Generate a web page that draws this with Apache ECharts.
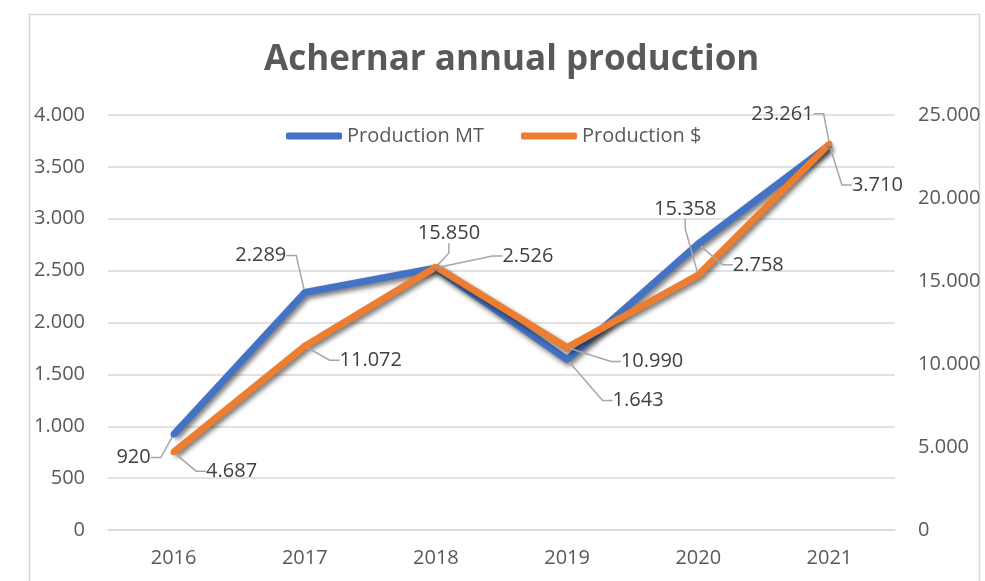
<!DOCTYPE html>
<html>
<head>
<meta charset="utf-8">
<script src="https://cdn.jsdelivr.net/npm/echarts@6/dist/echarts.min.js"></script>
<style>
  html, body { margin: 0; padding: 0; background: #fff; }
  #main { width: 985px; height: 581px; }
</style>
</head>
<body>
<div id="main"></div>
<script>
const years = ['2016', '2017', '2018', '2019', '2020', '2021']
const productionMT = [920, 2289, 2526, 1643, 2758, 3710]
const productionUSD = [4687, 11072, 15850, 10990, 15358, 23261]
const leftTicks = [0, 4000, 500]
const rightTicks = [0, 25000, 5000]

// label offsets (label centre minus point), px
const offsetsMT = [[-40, 23], [-44, -37], [92, -12], [71, 41], [60, 21], [48, 40]]
const offsetsUSD = [[58, 19], [66, 14], [13, -34], [85, 14], [-13, -66], [-47, -30]]

const FONT = 'Open Sans'
const fmt = (v) => String(v).replace(/\B(?=(\d{3})+(?!\d))/g, '.')

const chart = echarts.init(document.getElementById('main'))

const makeSeries = (name, data, color, axis, offsets) => ({
  name: name,
  type: 'line',
  yAxisIndex: axis,
  data: data,
  symbol: 'circle',
  symbolSize: 6,
  showSymbol: true,
  itemStyle: { color: color },
  lineStyle: {
    width: 7,
    color: color,
    shadowColor: 'rgba(0, 0, 0, 0.55)',
    shadowBlur: 5,
    shadowOffsetX: 2,
    shadowOffsetY: 3,
  },
  label: {
    show: true,
    position: 'inside',
    formatter: (p) => fmt(p.value),
    color: '#404040',
    fontFamily: FONT,
    fontSize: 20,
  },
  labelLine: {
    show: true,
    length2: 10,
    lineStyle: { color: '#a6a6a6', width: 1.5 },
  },
  labelLayout: (p) => ({
    dx: offsets[p.dataIndex][0],
    dy: offsets[p.dataIndex][1],
    hideOverlap: false,
  }),
})

const option = {
  animation: false,
  backgroundColor: '#fff',
  title: {
    text: 'Achernar annual production',
    left: 259,
    top: 38,
    textStyle: {
      color: '#595959',
      fontFamily: FONT,
      fontWeight: 'bold',
      fontSize: 35,
    },
  },
  legend: {
    left: 281,
    top: 121,
    icon: 'roundRect',
    itemWidth: 56,
    itemHeight: 7,
    itemGap: 37,
    textStyle: { color: '#595959', fontFamily: FONT, fontSize: 20 },
    data: ['Production MT', 'Production $'],
  },
  graphic: [
    {
      type: 'rect',
      silent: true,
      shape: { x: 29.5, y: 14.5, width: 950, height: 620 },
      style: { fill: 'none', stroke: '#d9d9d9', lineWidth: 1.5 },
    },
  ],
  grid: { left: 108, right: 90, top: 115, bottom: 51 },
  xAxis: {
    type: 'category',
    data: years,
    axisLine: { lineStyle: { color: '#d9d9d9', width: 1.5 } },
    axisTick: { show: false },
    axisLabel: { color: '#595959', fontFamily: FONT, fontSize: 20, margin: 18 },
  },
  yAxis: [
    {
      type: 'value',
      min: leftTicks[0],
      max: leftTicks[1],
      interval: leftTicks[2],
      axisLine: { show: false },
      axisTick: { show: false },
      splitLine: { lineStyle: { color: '#d9d9d9', width: 1.5 } },
      axisLabel: { color: '#595959', fontFamily: FONT, fontSize: 20, margin: 23, formatter: fmt },
    },
    {
      type: 'value',
      min: rightTicks[0],
      max: rightTicks[1],
      interval: rightTicks[2],
      axisLine: { show: false },
      axisTick: { show: false },
      splitLine: { show: false },
      axisLabel: { color: '#595959', fontFamily: FONT, fontSize: 20, margin: 23, formatter: fmt },
    },
  ],
  series: [
    makeSeries('Production MT', productionMT, '#4472c4', 0, offsetsMT),
    makeSeries('Production $', productionUSD, '#ed7d31', 1, offsetsUSD),
  ],
}

chart.setOption(option)
</script>
</body>
</html>
